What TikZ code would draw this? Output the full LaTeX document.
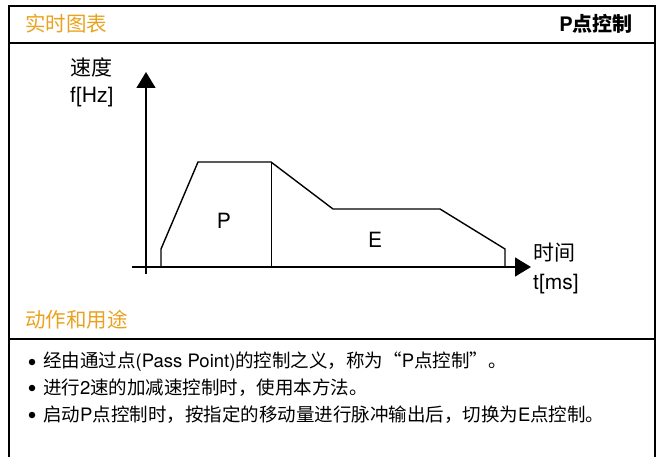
\documentclass[tikz,border=0pt]{standalone}
\usepackage{fontspec}
\setmainfont{TeX Gyre Heros}
\newfontfamily\cjk{Noto Sans CJK SC}
\usetikzlibrary{arrows.meta}
\definecolor{hdr}{HTML}{E9A21F}
\begin{document}
\begin{tikzpicture}[x=1pt,y=-1pt,
  frame/.style={line width=1.8pt},
  curve/.style={line width=1.4pt, line join=miter},
  divider/.style={line width=0.9pt},
  axis/.style={line width=1.4pt},
  title/.style={anchor=west, inner sep=0pt, text=hdr, font=\cjk\fontsize{20.5}{24}\selectfont},
  lbl/.style={inner sep=0pt, font=\fontsize{21}{24}\selectfont},
  item/.style={anchor=west, inner sep=0pt, font=\fontsize{18.5}{22}\selectfont},
  dot/.style={circle, fill=black, inner sep=0pt, minimum size=6.5pt}]
\useasboundingbox (0,0) rectangle (664,457);
% frame
\coordinate (tl) at (9,6);
\coordinate (tr) at (655,6);
\coordinate (bl) at (9,457);
\coordinate (br) at (655,457);
\draw[frame] (bl) -- (tl) -- (tr) -- (br);
\coordinate (h1l) at (9,43);
\coordinate (h1r) at (655,43);
\draw[frame] (h1l) -- (h1r);
\coordinate (h2l) at (9,339);
\coordinate (h2r) at (655,339);
\draw[frame] (h2l) -- (h2r);
% header texts
\node[title] (t1) at (25,24) {实时图表};
\node[anchor=east, inner sep=0pt, font=\bfseries\fontsize{20}{24}\selectfont] (t2) at (633,24) {P{\cjk\bfseries 点控制}};
\node[title] (t3) at (25,320) {动作和用途};
% axes
\coordinate (ya) at (146,274);
\coordinate (yb) at (146,72);
\coordinate (xa) at (132,267);
\coordinate (xb) at (531,267);
\draw[axis, -{Triangle[length=16pt,width=19pt]}] (ya) -- (yb);
\draw[axis, -{Triangle[length=16pt,width=19pt]}] (xa) -- (xb);
% profile
\coordinate (p0) at (161,267);
\coordinate (p1) at (161,249);
\coordinate (p2) at (198,162);
\coordinate (p3) at (271,162);
\coordinate (p3b) at (271,267);
\coordinate (p4) at (333,209);
\coordinate (p5) at (440,209);
\coordinate (p6) at (505,249);
\coordinate (p7) at (505,267);
\draw[curve] (p0) -- (p1) -- (p2) -- (p3) -- (p4) -- (p5) -- (p6) -- (p7);
\draw[divider] (p3) -- (p3b);
\node[lbl] (P) at (224,221) {P};
\node[lbl] (E) at (375,240) {E};
\node[lbl, anchor=west, font=\cjk\fontsize{21}{24}\selectfont] (sj) at (533,253) {时间};
\node[lbl, anchor=west] (tm) at (533,284) {t[ms]};
\node[lbl, anchor=west, font=\cjk\fontsize{21}{24}\selectfont] (sd) at (70,67) {速度};
\node[lbl, anchor=west] (fh) at (70,97) {f[Hz]};
% bullets
\node[dot] (d1) at (32,362) {};
\node[dot] (d2) at (32,388) {};
\node[dot] (d3) at (32,415) {};
\node[item] (b1) at (43,362) {{\cjk 经由通过点}(Pass Point){\cjk 的控制之义，称为“}P{\cjk 点控制”。}};
\node[item] (b2) at (43,388) {{\cjk 进行}2{\cjk 速的加减速控制时，使用本方法。}};
\node[item] (b3) at (43,415) {{\cjk 启动}P{\cjk 点控制时，按指定的移动量进行脉冲输出后，切换为}E{\cjk 点控制。}};
\end{tikzpicture}
\end{document}
